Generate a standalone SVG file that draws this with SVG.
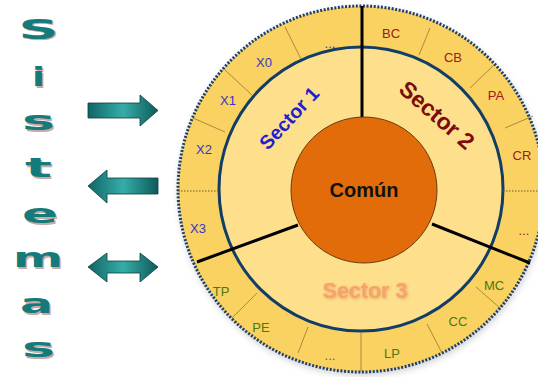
<svg xmlns="http://www.w3.org/2000/svg" width="538" height="377" viewBox="0 0 538 377">
<defs>
<linearGradient id="ag" x1="0" y1="0" x2="1" y2="0">
<stop offset="0" stop-color="#0f6565"/>
<stop offset="0.5" stop-color="#36ada8"/>
<stop offset="1" stop-color="#0d5a5a"/>
</linearGradient>
<filter id="blur" x="-20%" y="-20%" width="140%" height="140%"><feGaussianBlur stdDeviation="1.5"/></filter>
<filter id="sh" x="-10%" y="-10%" width="120%" height="120%"><feGaussianBlur stdDeviation="3"/></filter>
</defs>
<style>
.let{font-family:"DejaVu Sans",sans-serif;font-weight:bold;font-size:26px;text-anchor:middle}
.lf{fill:#147a7a}
.ls{fill:#c9aaa8}
.arr{fill:url(#ag);stroke:#0b3d3d;stroke-width:0.8}
.div{stroke:#8a6a2a;stroke-width:0.7;fill:none}
.dot{stroke:#6a5a30;stroke-width:1;stroke-dasharray:1.5 1.5;fill:none}
.sec{stroke:#000;stroke-width:3;fill:none}
.lb{font-family:"Liberation Sans",Arial,sans-serif;font-size:13px;text-anchor:middle}
.b{fill:#3535cc}
.r{fill:#a01820}
.g{fill:#4a7a10}
.big{font-family:"Liberation Sans",Arial,sans-serif;font-weight:bold;text-anchor:middle}
</style>
<rect width="538" height="377" fill="#fff"/>
<g id="sistemas">
<text class="let ls" x="40" y="40" textLength="40" lengthAdjust="spacingAndGlyphs">S</text>
<text class="let lf" x="38.5" y="38.5" textLength="40" lengthAdjust="spacingAndGlyphs">S</text>
<text class="let ls" x="40" y="87.5" textLength="13" lengthAdjust="spacingAndGlyphs">i</text>
<text class="let lf" x="38.5" y="86" textLength="13" lengthAdjust="spacingAndGlyphs">i</text>
<text class="let ls" x="40" y="131.5" textLength="33" lengthAdjust="spacingAndGlyphs">s</text>
<text class="let lf" x="38.5" y="130" textLength="33" lengthAdjust="spacingAndGlyphs">s</text>
<text class="let ls" x="40" y="178.5" textLength="27" lengthAdjust="spacingAndGlyphs">t</text>
<text class="let lf" x="38.5" y="177" textLength="27" lengthAdjust="spacingAndGlyphs">t</text>
<text class="let ls" x="41.5" y="224.5" textLength="36" lengthAdjust="spacingAndGlyphs">e</text>
<text class="let lf" x="40" y="223" textLength="36" lengthAdjust="spacingAndGlyphs">e</text>
<text class="let ls" x="39.5" y="268.5" textLength="50" lengthAdjust="spacingAndGlyphs">m</text>
<text class="let lf" x="38" y="267" textLength="50" lengthAdjust="spacingAndGlyphs">m</text>
<text class="let ls" x="38" y="314.5" textLength="33" lengthAdjust="spacingAndGlyphs">a</text>
<text class="let lf" x="36.5" y="313" textLength="33" lengthAdjust="spacingAndGlyphs">a</text>
<text class="let ls" x="40" y="358.5" textLength="33" lengthAdjust="spacingAndGlyphs">s</text>
<text class="let lf" x="38.5" y="357" textLength="33" lengthAdjust="spacingAndGlyphs">s</text>
</g>
<g id="arrows">
<path class="arr" d="M88,103 H140 V95 L158,110.5 L140,126 V118 H88 Z"/>
<path class="arr" d="M158,178 H107 V170 L88,186 L107,203 V194 H158 Z"/>
<path class="arr" d="M88,267 L107,253 V261 H140 V253 L158,267 L140,282 V273 H107 V282 Z"/>
</g>
<g id="wheel">
<circle cx="362" cy="192" r="184" fill="#888" opacity="0.35" filter="url(#sh)"/>
<circle cx="361" cy="189" r="183" fill="#f9d262"/>
<circle cx="361" cy="189" r="183" fill="none" stroke="#1d3f6e" stroke-width="3" stroke-dasharray="2 1.6"/>
<circle cx="361" cy="189" r="142" fill="#fddf8c" stroke="#123d66" stroke-width="3"/>
<g id="dividers">
<line class="div" x1="285" y1="27" x2="301" y2="59"/>
<line class="div" x1="225" y1="70" x2="253" y2="96"/>
<line class="div" x1="193" y1="118" x2="225" y2="132"/>
<line class="dot" x1="178" y1="191" x2="220" y2="191"/>
<line class="div" x1="430" y1="28" x2="419" y2="55"/>
<line class="div" x1="494" y1="65" x2="470" y2="88"/>
<line class="div" x1="533" y1="116" x2="505" y2="128"/>
<line class="dot" x1="503" y1="191" x2="538" y2="191"/>
<line class="div" x1="232" y1="318" x2="257" y2="293"/>
<line class="div" x1="298" y1="353" x2="308" y2="327"/>
<line class="div" x1="361" y1="333" x2="361" y2="372"/>
<line class="div" x1="442" y1="353" x2="427" y2="324"/>
<line class="div" x1="500" y1="308" x2="476" y2="287"/>
</g>
<g id="sector-lines">
<line class="sec" x1="362" y1="6" x2="362" y2="120"/>
<line class="sec" x1="298" y1="225" x2="197" y2="262"/>
<line class="sec" x1="432" y1="224" x2="530" y2="263"/>
</g>
<g id="comun">
<circle cx="364" cy="190" r="73" fill="#e36c0a" stroke="#6b3a10" stroke-width="1"/>
<text class="big" x="364" y="197" font-size="20" fill="#111">Común</text>
</g>
<g id="sector1">
<text class="big" x="289" y="125" font-size="19.5" fill="#1f1fd0" transform="rotate(-47 289 118)">Sector 1</text>
<text class="lb b" x="330" y="48">...</text>
<text class="lb b" x="264" y="67">X0</text>
<text class="lb b" x="228" y="105">X1</text>
<text class="lb b" x="204" y="154">X2</text>
<text class="lb b" x="198" y="233">X3</text>
</g>
<g id="sector2">
<text class="big" x="437" y="123" font-size="23" fill="#7a0c0c" transform="rotate(41 437 115)">Sector 2</text>
<text class="lb r" x="391" y="38">BC</text>
<text class="lb r" x="453" y="62">CB</text>
<text class="lb r" x="496" y="100">PA</text>
<text class="lb r" x="522" y="160">CR</text>
<text class="lb r" x="524" y="235">...</text>
</g>
<g id="sector3">
<text class="big" x="366" y="299" font-size="21.5" fill="#e8905a" opacity="0.7" filter="url(#blur)">Sector 3</text>
<text class="big" x="365" y="298" font-size="21.5" fill="#f4a46c">Sector 3</text>
<text class="lb g" x="221" y="296">TP</text>
<text class="lb g" x="261" y="332">PE</text>
<text class="lb g" x="330" y="360">...</text>
<text class="lb g" x="392" y="358">LP</text>
<text class="lb g" x="458" y="326">CC</text>
<text class="lb g" x="494" y="290">MC</text>
</g>
</g>
</svg>
